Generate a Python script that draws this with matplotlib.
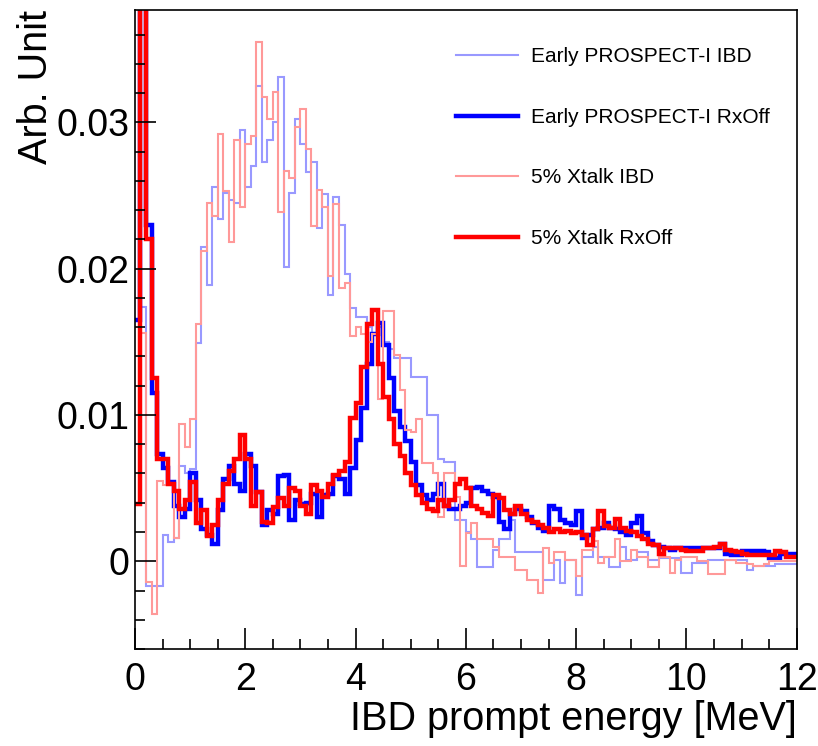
import numpy as np
import matplotlib
matplotlib.use("Agg")
import matplotlib.pyplot as plt
from matplotlib.ticker import MultipleLocator, FixedLocator, FixedFormatter

plt.rcParams['font.family'] = ['Liberation Sans', 'DejaVu Sans']

# 0.1 MeV bins from 0 to 12 MeV
edges = np.linspace(0, 12, 121)

# bin contents, in units of 1e-3
early_ibd = np.array([
    8.0, 17.4, -1.7, -1.7, -1.7, 1.8, 1.3, 1.6, 6.5, 6.0,
    6.3, 14.9, 21.5, 18.9, 25.6, 23.4, 25.2, 24.7, 24.5, 29.5,
    25.6, 27.0, 32.5, 27.3, 28.8, 30.0, 33.1, 20.1, 25.2, 30.2,
    28.5, 26.6, 27.3, 22.8, 25.1, 18.2, 24.9, 23.0, 19.6, 17.3,
    16.7, 16.7, 16.0, 15.5, 16.0, 15.0, 14.5, 13.9, 13.9, 13.9,
    12.6, 12.6, 12.6, 10.0, 10.0, 7.0, 6.8, 6.8, 2.8, 2.8,
    2.0, 1.5, -0.4, -0.4, -0.4, 0.8, 1.5, 1.5, 2.8, 0.6,
    0.6, 0.6, 0.6, 0.6, -1.3, -1.3, 0.1, -1.5, 0.1, 0.1,
    -2.3, 0.3, 0.3, 1.0, 0.3, 0.3, -0.4, -0.4, 1.0, 0.1,
    0.1, 0.6, 0.6, 0.1, 0.1, 0.2, 0.2, 0.2, 0.2, -0.8,
    -0.8, -0.1, -0.1, -0.1, 0.1, 0.1, 0.1, 0.1, 0.1, 0.1,
    0.1, -0.6, -0.3, -0.3, -0.3, -0.3, -0.2, -0.2, -0.2, -0.2]) * 1e-3

early_rxoff = np.array([
    16.5, 45.0, 23.0, 11.5, 7.3, 6.4, 5.4, 3.8, 3.0, 3.6,
    6.0, 4.2, 2.2, 1.8, 1.2, 3.5, 5.6, 6.5, 5.3, 4.8,
    7.3, 6.5, 4.7, 2.5, 3.5, 3.2, 5.8, 5.9, 2.8, 4.2,
    3.9, 4.0, 4.6, 3.0, 4.5, 4.6, 5.8, 5.6, 4.6, 6.4,
    8.3, 10.5, 13.5, 15.5, 16.3, 14.8, 12.5, 10.3, 9.2, 8.2,
    6.8, 5.2, 4.5, 4.2, 4.6, 5.3, 3.8, 3.6, 3.6, 3.8,
    4.0, 5.0, 5.1, 4.8, 4.6, 4.4, 2.7, 2.2, 3.2, 3.6,
    3.4, 3.0, 2.6, 2.3, 2.1, 3.8, 3.6, 2.8, 2.6, 2.5,
    3.4, 1.6, 1.8, 2.2, 2.3, 2.6, 2.3, 2.2, 2.0, 1.8,
    2.6, 3.1, 1.9, 1.4, 1.1, 1.0, 0.9, 0.8, 0.9, 0.9,
    0.9, 0.9, 0.9, 0.9, 0.9, 0.9, 1.2, 0.5, 0.4, 0.4,
    0.7, 0.7, 0.7, 0.7, 0.6, 0.2, 0.2, 0.5, 0.5, 0.5]) * 1e-3

xtalk_ibd = np.array([
    4.0, 15.6, -1.4, -3.6, 5.5, 5.2, 5.2, 1.6, 9.4, 7.8,
    9.7, 16.2, 21.2, 24.5, 23.6, 29.2, 25.3, 21.8, 28.8, 24.2,
    28.5, 29.1, 35.5, 31.7, 30.2, 32.1, 23.9, 26.7, 26.2, 29.7,
    30.9, 28.2, 22.9, 25.4, 24.2, 19.5, 24.4, 18.7, 19.0, 15.4,
    16.0, 15.5, 15.0, 15.5, 11.1, 17.1, 17.1, 14.1, 11.7, 9.0,
    8.8, 9.7, 6.7, 6.7, 6.0, 3.0, 6.0, 6.0, 4.4, -0.3,
    1.9, 2.6, 1.5, 1.5, 1.5, 1.0, 0.3, 0.3, 0.3, -0.6,
    -0.6, -1.3, -1.3, -2.2, 0.9, -0.1, 0.6, 0.6, 0.1, 0.1,
    -1.0, 0.8, 0.8, 1.4, -0.1, 0.3, 0.3, 1.5, 0.0, 0.0,
    0.8, 0.3, 0.3, -0.4, -0.4, 0.3, 0.3, -0.8, 0.1, 0.3,
    0.3, 0.3, 0.0, 0.0, -0.9, -0.9, -0.9, 0.1, 0.1, -0.1,
    -0.1, -0.2, -0.3, -0.3, -0.2, 0.0, 0.0, 0.0, 0.0, 0.0]) * 1e-3

xtalk_rxoff = np.array([
    3.9, 45.0, 22.0, 12.5, 7.0, 7.0, 5.3, 4.8, 3.6, 4.2,
    5.4, 2.6, 3.5, 1.7, 2.5, 4.2, 5.3, 6.2, 7.0, 8.6,
    7.0, 3.8, 4.7, 2.7, 2.6, 3.7, 4.3, 3.8, 5.0, 4.8,
    3.8, 3.2, 5.2, 4.8, 4.4, 5.3, 5.9, 6.2, 6.8, 9.8,
    10.8, 13.3, 16.2, 17.2, 13.5, 11.2, 9.7, 8.0, 7.2, 6.0,
    5.2, 4.5, 4.0, 3.6, 3.4, 4.2, 3.8, 4.2, 5.3, 5.6,
    5.0, 3.8, 3.6, 3.3, 3.1, 4.5, 4.3, 3.5, 3.2, 3.8,
    3.2, 2.8, 2.7, 2.5, 2.3, 2.0, 2.2, 2.0, 2.1, 1.9,
    2.0, 1.8, 1.1, 2.2, 3.4, 2.4, 2.3, 2.9, 2.3, 2.1,
    2.0, 1.7, 1.5, 1.2, 1.1, 0.5, 0.9, 0.9, 0.9, 0.8,
    0.7, 0.7, 0.7, 0.9, 0.9, 1.0, 1.2, 0.8, 0.7, 0.6,
    0.5, 0.4, 0.4, 0.4, 0.4, 0.4, 0.7, 0.6, 0.3, 0.3]) * 1e-3

labels = ['Early PROSPECT-I IBD', 'Early PROSPECT-I RxOff',
          '5% Xtalk IBD', '5% Xtalk RxOff']

fig = plt.figure(figsize=(8.18, 7.46), dpi=100)
ax = fig.add_axes([0.165, 0.130, 0.809, 0.857])

ax.stairs(early_ibd, edges, baseline=None, color='#9999ff', lw=1.5, label=labels[0])
ax.stairs(early_rxoff, edges, baseline=None, color='#0000ff', lw=3.2, label=labels[1])
ax.stairs(xtalk_ibd, edges, baseline=None, color='#ff9999', lw=1.5, label=labels[2])
ax.stairs(xtalk_rxoff, edges, baseline=None, color='#ff0000', lw=3.2, label=labels[3])

ax.set_xlim(0, 12)
ax.set_ylim(-0.006, 0.0377)

ax.xaxis.set_major_locator(MultipleLocator(2))
ax.xaxis.set_minor_locator(MultipleLocator(0.5))
ax.yaxis.set_major_locator(FixedLocator([0, 0.01, 0.02, 0.03]))
ax.yaxis.set_major_formatter(FixedFormatter(['0', '0.01', '0.02', '0.03']))
ax.yaxis.set_minor_locator(MultipleLocator(0.002))

ax.tick_params(which='both', direction='in', top=False, right=False,
               labelsize=27, width=1.2)
ax.tick_params(which='major', length=15)
ax.tick_params(which='minor', length=7.5)
ax.tick_params(axis='x', pad=9)
ax.tick_params(axis='y', pad=4)
for s in ax.spines.values():
    s.set_linewidth(1.2)

ax.set_xlabel('IBD prompt energy [MeV]', fontsize=28.5, loc='right')
ax.xaxis.set_label_coords(1.0, -0.08)
ax.set_ylabel('Arb. Unit', fontsize=28.5, loc='top')
ax.yaxis.set_label_coords(-0.121, 1.0)

ax.legend(loc='upper left', bbox_to_anchor=(0.4724, 0.954), frameon=False,
          fontsize=15, handlelength=3.0, handletextpad=0.6, labelspacing=1.99,
          borderaxespad=0)

fig.savefig('out.png', dpi=100)
